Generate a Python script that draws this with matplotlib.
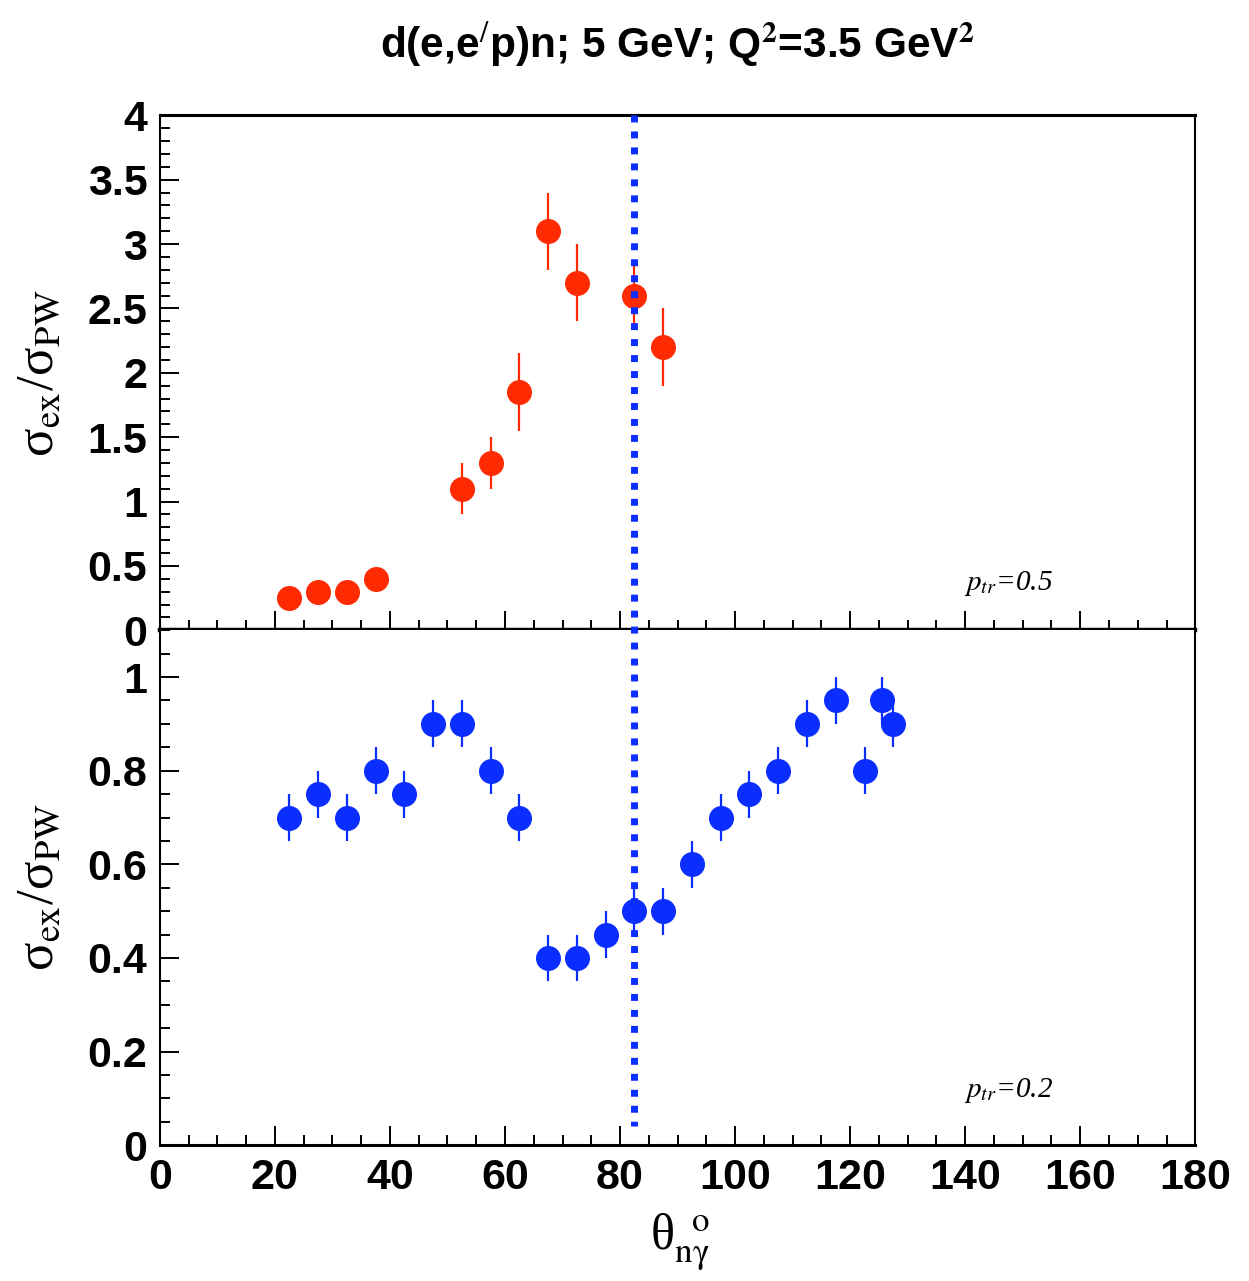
import matplotlib
matplotlib.use("Agg")
import matplotlib.pyplot as plt
from matplotlib.lines import Line2D
from matplotlib.ticker import MultipleLocator, FormatStrFormatter
import matplotlib.transforms as mtransforms

plt.rcParams['mathtext.fontset'] = 'stix'
plt.rcParams['font.family'] = ['Liberation Sans', 'DejaVu Sans']

# top panel: p_tr = 0.5
x_top = [22.5, 27.5, 32.5, 37.5, 52.5, 57.5, 62.5, 67.5, 72.5, 82.5, 87.5]
y_top = [0.25, 0.30, 0.30, 0.40, 1.10, 1.30, 1.85, 3.10, 2.70, 2.60, 2.20]
e_top = [0.0, 0.0, 0.05, 0.06, 0.20, 0.20, 0.30, 0.30, 0.30, 0.27, 0.30]

# bottom panel: p_tr = 0.2
x_bot = [22.5, 27.5, 32.5, 37.5, 42.5, 47.5, 52.5, 57.5, 62.5, 67.5, 72.5,
         77.5, 82.5, 87.5, 92.5, 97.5, 102.5, 107.5, 112.5, 117.5, 122.5,
         125.5, 127.5]
y_bot = [0.70, 0.75, 0.70, 0.80, 0.75, 0.90, 0.90, 0.80, 0.70, 0.40, 0.40,
         0.45, 0.50, 0.50, 0.60, 0.70, 0.75, 0.80, 0.90, 0.95, 0.80,
         0.95, 0.90]
e_bot = [0.05] * len(x_bot)

theta_cut = 82.5
red = '#ff2a00'
blue = '#0a2eff'
serif = ['Liberation Serif', 'DejaVu Serif']

fig = plt.figure(figsize=(12.49, 12.81), dpi=100)
ax1 = fig.add_axes([0.128, 0.508, 0.829, 0.402])
ax2 = fig.add_axes([0.128, 0.106, 0.829, 0.402], sharex=ax1)

ax1.errorbar(x_top, y_top, yerr=e_top, fmt='o', color=red, ms=17,
             elinewidth=1.6, capsize=0, zorder=3)
ax2.errorbar(x_bot, y_bot, yerr=e_bot, fmt='o', color=blue, ms=17,
             elinewidth=1.6, capsize=0, zorder=3)

ax1.set_xlim(0, 180)
ax1.set_ylim(0, 4)
ax2.set_ylim(0, 1.1)

ax1.yaxis.set_major_locator(MultipleLocator(0.5))
ax1.yaxis.set_minor_locator(MultipleLocator(0.1))
ax2.yaxis.set_major_locator(MultipleLocator(0.2))
ax2.yaxis.set_minor_locator(MultipleLocator(0.05))
ax2.xaxis.set_major_locator(MultipleLocator(20))
ax2.xaxis.set_minor_locator(MultipleLocator(5))

for ax in (ax1, ax2):
    ax.yaxis.set_major_formatter(FormatStrFormatter('%g'))
    ax.tick_params(which='both', direction='in', top=False, right=False,
                   width=1.4, labelsize=31)
    ax.tick_params(which='major', length=14, pad=9)
    ax.tick_params(which='minor', length=7)
    for lab in ax.get_yticklabels() + ax.get_xticklabels():
        lab.set_fontweight('bold')
    ax.spines['left'].set_linewidth(1.5)
    ax.spines['right'].set_linewidth(1.5)
    ax.set_ylabel(r'σ$_{\rm ex}$/σ$_{\rm PW}$', fontsize=38, family=serif)
    ax.yaxis.set_label_coords(-0.093, 0.5)

ax1.spines['top'].set_linewidth(2.2)
ax1.spines['bottom'].set_linewidth(3.2)
ax2.spines['top'].set_visible(False)
ax2.spines['bottom'].set_linewidth(2.2)
ax1.tick_params(axis='x', labelbottom=False)

ax2.set_xlabel(r'θ$_{\rm nγ}^{\ \ \rm o}$', fontsize=36, family=serif)
ax2.xaxis.set_label_coords(0.502, -0.128)

ax1.text(0.82, 0.091, r'$p_{tr}$=0.5', transform=ax1.transAxes,
         fontsize=21, ha='center', va='center', family=serif, style='italic')
ax2.text(0.82, 0.107, r'$p_{tr}$=0.2', transform=ax2.transAxes,
         fontsize=21, ha='center', va='center', family=serif, style='italic')

# dotted cut line across both panels
trans = mtransforms.blended_transform_factory(ax2.transData, fig.transFigure)
fig.add_artist(Line2D([theta_cut, theta_cut], [0.910, 0.121], transform=trans,
                      color=blue, lw=5, dashes=(1, 1.3), zorder=5))

fig.text(0.5424, 0.965, r"d(e,e$^{/}$p)n; 5 GeV; Q$^{\mathbf{2}}$=3.5 GeV$^{\mathbf{2}}$",
         ha='center', va='center', fontsize=30.5, fontweight='bold')

fig.savefig('out.png', dpi=100)
